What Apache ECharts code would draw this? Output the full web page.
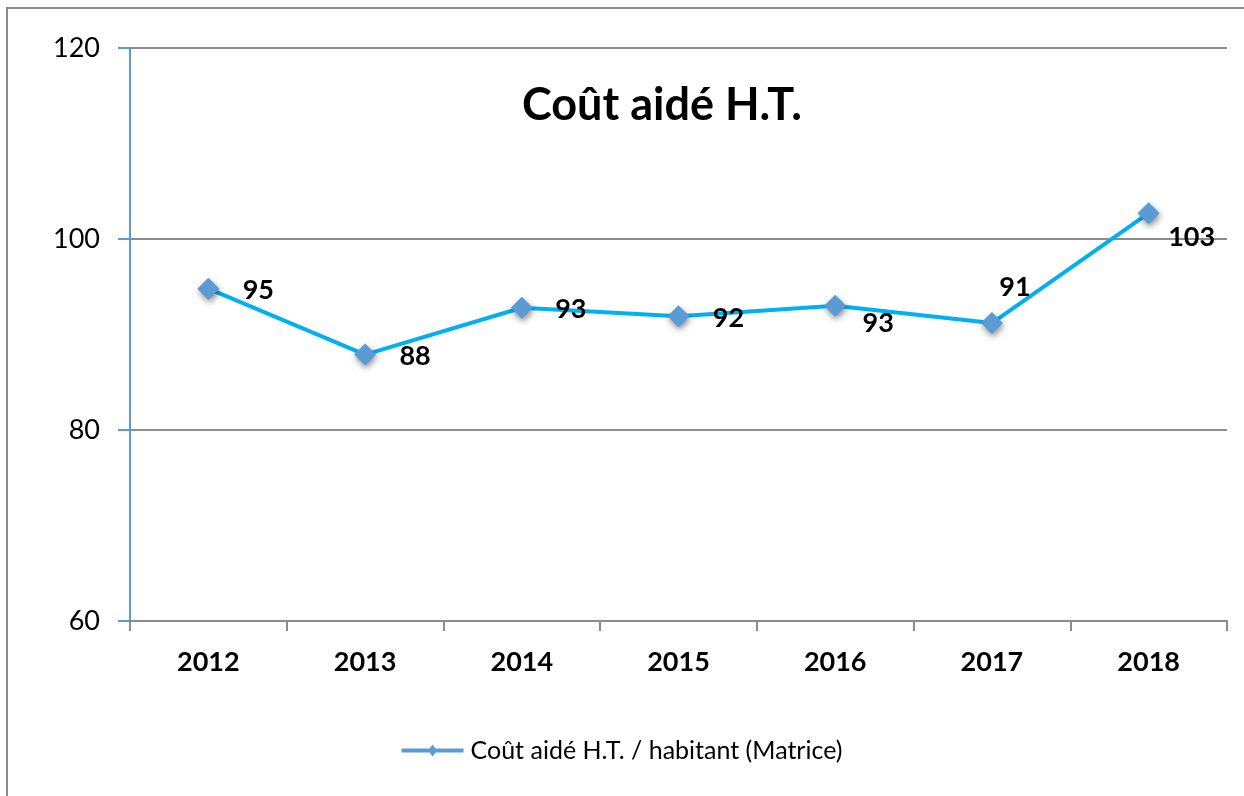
<!DOCTYPE html>
<html>
<head>
<meta charset="utf-8">
<script src="https://cdn.jsdelivr.net/npm/echarts@6/dist/echarts.min.js"></script>
<style>
  html, body { margin: 0; padding: 0; background: #fff; }
  #main { width: 1244px; height: 796px; }
</style>
</head>
<body>
<div id="main"></div>
<script>
var years = ['2012', '2013', '2014', '2015', '2016', '2017', '2018'];
var values = [94.8, 87.9, 92.8, 91.9, 93.0, 91.2, 102.7];
var labels = ['95', '88', '93', '92', '93', '91', '103'];
var labelPos = [[50, 2], [50, 2], [49, 2], [50, 2], [43, 17], [23, -36], [43, 24]];

var chart = echarts.init(document.getElementById('main'));

var fontMain = 'Lato, "Open Sans", sans-serif';

var option = {
    backgroundColor: '#fff',
    animation: false,
    title: {
        text: 'Coût aidé H.T.',
        left: 657,
        top: 78,
        textAlign: 'center',
        textStyle: { fontSize: 45, fontWeight: 'bold', color: '#000', fontFamily: fontMain }
    },
    graphic: [{
        type: 'rect',
        shape: { x: 7, y: 8, width: 1300, height: 900 },
        style: { fill: 'none', stroke: '#8c8c8c', lineWidth: 2 },
        silent: true
    }],
    legend: {
        bottom: 28,
        left: 'center',
        itemWidth: 62,
        itemHeight: 12,
        itemGap: 8,
        icon: 'path://M0,4 L28,4 L31,0 L34,4 L62,4 L62,8 L34,8 L31,12 L28,8 L0,8 Z',
        data: ['Coût aidé H.T. / habitant (Matrice)'],
        textStyle: { fontSize: 25, color: '#000', fontFamily: fontMain, padding: [0, 0, 0, 2] }
    },
    grid: { left: 130, right: 17, top: 48, bottom: 175 },
    xAxis: {
        type: 'category',
        data: years,
        boundaryGap: true,
        axisLine: { lineStyle: { color: '#8c8c8c', width: 2 } },
        axisTick: { show: true, length: 10, lineStyle: { color: '#8c8c8c', width: 2 } },
        axisLabel: { fontSize: 27, fontWeight: 'bold', color: '#000', margin: 28, fontFamily: fontMain }
    },
    yAxis: {
        type: 'value',
        min: 60,
        max: 120,
        interval: 20,
        axisLine: { show: true, lineStyle: { color: '#5b9bd5', width: 2 } },
        axisTick: { show: true, length: 12, lineStyle: { color: '#5b9bd5', width: 2 } },
        axisLabel: { fontSize: 27, color: '#000', margin: 30, fontFamily: fontMain },
        splitLine: { lineStyle: { color: '#8c8c8c', width: 2 } }
    },
    series: [{
        name: 'Coût aidé H.T. / habitant (Matrice)',
        type: 'line',
        data: values.map(function(v, i) {
            return {
                value: v,
                label: {
                    show: true,
                    position: 'inside',
                    offset: labelPos[i],
                    formatter: labels[i]
                }
            };
        }),
        symbol: 'diamond',
        symbolSize: 22,
        itemStyle: {
            color: '#5b9bd5',
            shadowColor: 'rgba(0,0,0,0.45)',
            shadowBlur: 6,
            shadowOffsetX: 1,
            shadowOffsetY: 3
        },
        lineStyle: { color: '#00b0f0', width: 4 },
        label: { fontSize: 27, fontWeight: 'bold', color: '#000', fontFamily: fontMain },
        z: 3
    }]
};

chart.setOption(option);
</script>
</body>
</html>
